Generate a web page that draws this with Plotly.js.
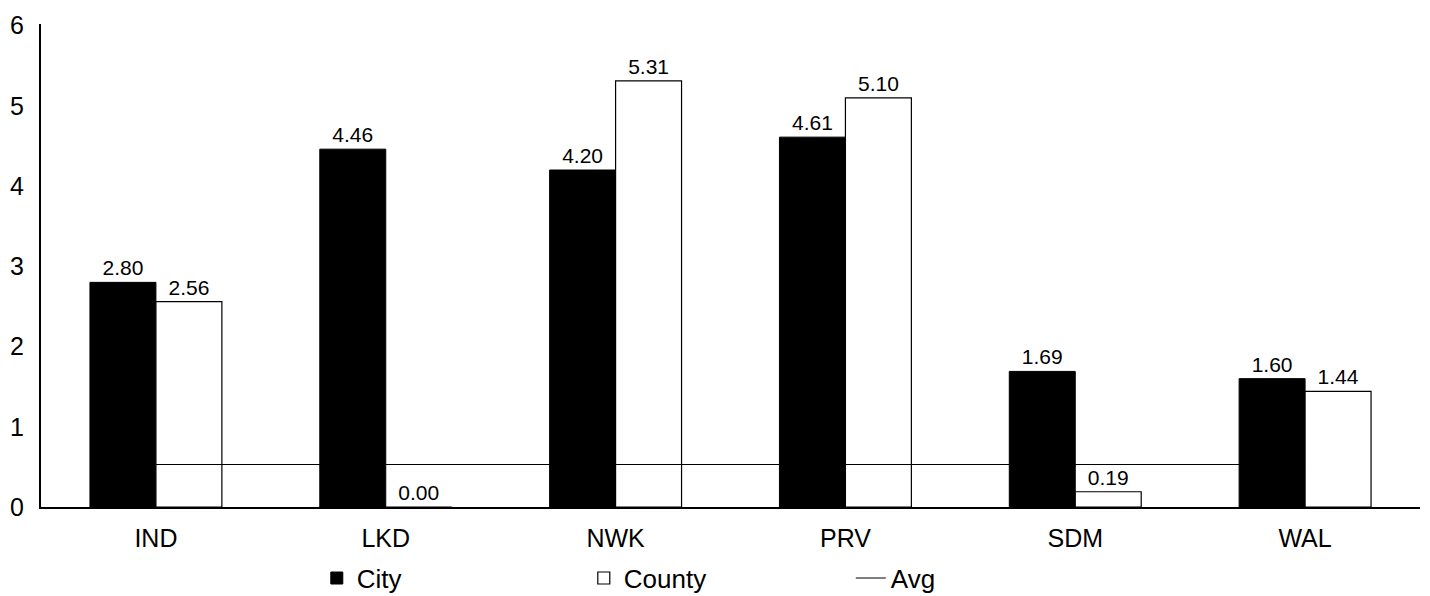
<!DOCTYPE html>
<html><head><meta charset="utf-8">
<script src="https://cdn.plot.ly/plotly-3.0.1.min.js"></script>
<style>html,body{margin:0;padding:0;background:#fff}#chart{width:1430px;height:596px}</style>
</head><body><div id="chart"></div>
<script>
const categories = ["IND", "LKD", "NWK", "PRV", "SDM", "WAL"];
const cityValues = [2.80, 4.46, 4.20, 4.61, 1.69, 1.60];
const countyValues = [2.56, 0.00, 5.31, 5.10, 0.19, 1.44];
const avgValues = [0.53, 0.53, 0.53, 0.53, 0.53, 0.53];
const yTicks = [0, 1, 2, 3, 4, 5, 6];

const FONT = "Liberation Sans, Arial, sans-serif";
const traces = [
  {type: "bar", name: "City", x: categories, y: cityValues,
   marker: {color: "#000", line: {color: "#000", width: 1}},
   text: cityValues.map(v => v.toFixed(2)), textposition: "outside",
   textfont: {family: FONT, size: 21, color: "#000"}, cliponaxis: false},
  {type: "bar", name: "County", x: categories, y: countyValues,
   marker: {color: "#fff", line: {color: "#000", width: 1.2}},
   text: countyValues.map(v => v.toFixed(2)), textposition: "outside",
   textfont: {family: FONT, size: 21, color: "#000"}, cliponaxis: false},
  {type: "scatter", mode: "lines", name: "Avg", x: categories, y: avgValues,
   line: {color: "#000", width: 1.2}}
];
const layout = {
  width: 1430, height: 596,
  margin: {l: 41, r: 10, t: 24, b: 89},
  paper_bgcolor: "#fff", plot_bgcolor: "#fff",
  font: {family: FONT, color: "#000", size: 25},
  barmode: "group", bargap: 0.426, bargroupgap: 0,
  showlegend: true,
  legend: {orientation: "h", x: 0.2, xanchor: "left", yref: "container", y: 0.03, yanchor: "middle",
           font: {family: FONT, size: 26, color: "#000"}, entrywidth: 222, entrywidthmode: "pixels",
           traceorder: "normal"},
  xaxis: {type: "category", showline: true, linecolor: "#000", linewidth: 2,
          ticks: "", showgrid: false, zeroline: false, ticklabelstandoff: 8,
          tickfont: {family: FONT, size: 25, color: "#000"}},
  yaxis: {range: [0, 6.02], tickvals: yTicks, ticktext: yTicks.map(String),
          showline: true, linecolor: "#000", linewidth: 2, ticks: "", showgrid: false,
          zeroline: false, ticklabelstandoff: 10,
          tickfont: {family: FONT, size: 25, color: "#000"}}
};
Plotly.newPlot("chart", traces, layout, {displayModeBar: false, staticPlot: true});
</script></body></html>
